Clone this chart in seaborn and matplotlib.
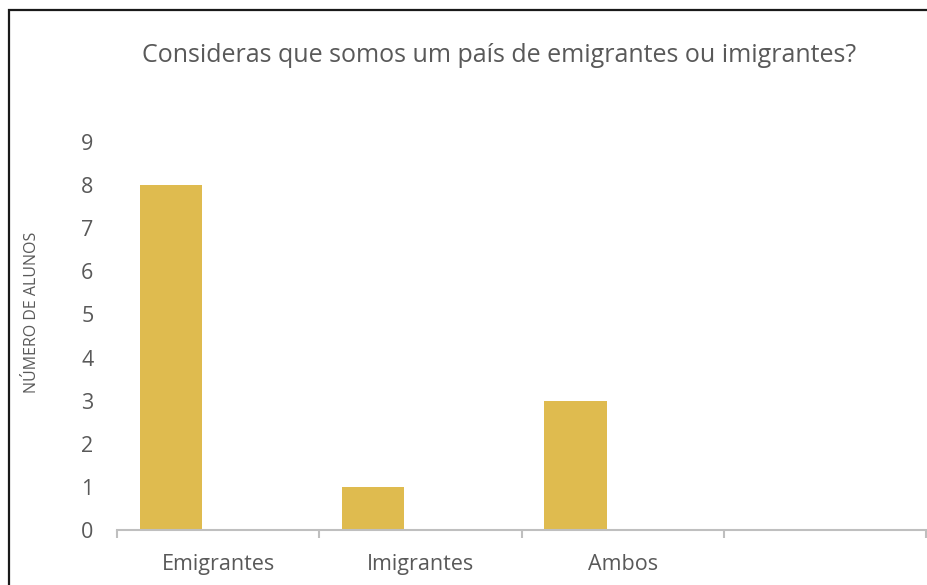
import matplotlib
matplotlib.use("Agg")
import matplotlib.pyplot as plt
import matplotlib.patches as mpatches
import seaborn as sns
import pandas as pd
import numpy as np

# Survey answers: number of students per response
categories = ["Emigrantes", "Imigrantes", "Ambos", ""]
alunos = [8, 1, 3, 0]
y_ticks = [0, 1, 2, 3, 4, 5, 6, 7, 8, 9]

title = "Consideras que somos um país de emigrantes ou imigrantes?"
y_label = "NÚMERO DE ALUNOS"

sns.set_theme(style="white")
plt.rcParams["font.family"] = ["Open Sans", "DejaVu Sans"]

text_color = "#595959"
axis_color = "#BFBFBF"
bar_color = "#DFBB4F"

df = pd.DataFrame({"categoria": categories, "alunos": alunos})

fig = plt.figure(figsize=(9.28, 5.85), dpi=100)
ax = fig.add_axes([117 / 928, 1 - 530 / 585, (926 - 117) / 928, (530 - 142) / 585])

bar_w = 0.307
sns.barplot(data=df, x="categoria", y="alunos", color=bar_color,
            width=bar_w, saturation=1, ax=ax, order=categories)
for p in ax.patches:
    p.set_edgecolor("none")

# each category slot is one unit wide; bars sit in the left part of the slot
lead = 0.267
n = len(categories)
ax.set_xlim(-lead, n - lead)
ax.set_ylim(0, 9)
ax.set_yticks(y_ticks)
ax.set_yticklabels([str(v) for v in y_ticks])

# slot boundaries carry the tick marks, labels sit in the middle of each slot
bounds = np.arange(n + 1) - lead
centres = np.arange(n) - lead + 0.5
ax.set_xticks(bounds)
ax.set_xticklabels([""] * len(bounds))
ax.set_xticks(centres, minor=True)
ax.set_xticklabels(categories, minor=True)
ax.tick_params(axis="x", which="major", length=6, width=1.5, color=axis_color,
               direction="out", bottom=True)
ax.tick_params(axis="x", which="minor", length=0, pad=17, labelsize=15.5,
               labelcolor=text_color)
ax.tick_params(axis="y", length=0, pad=17, labelsize=15.5, labelcolor=text_color)

for side in ["top", "right", "left"]:
    ax.spines[side].set_visible(False)
ax.spines["bottom"].set_color(axis_color)
ax.spines["bottom"].set_linewidth(1.5)
ax.set_xlabel("")
ax.set_ylabel(y_label, fontsize=11.5, color=text_color)
ax.yaxis.set_label_coords(-0.095, 0.562)
ax.grid(False)

fig.text(499 / 928, 1 - 55 / 585, title, ha="center", va="center",
         fontsize=18, color=text_color)

# chart frame
frame = mpatches.Rectangle((9.5 / 928, -0.1), 1.2, 1 - 9.5 / 585 + 0.1,
                           transform=fig.transFigure, fill=False,
                           edgecolor="#1a1a1a", linewidth=1.6, clip_on=False)
fig.patches.append(frame)

fig.savefig("out.png", dpi=100)
